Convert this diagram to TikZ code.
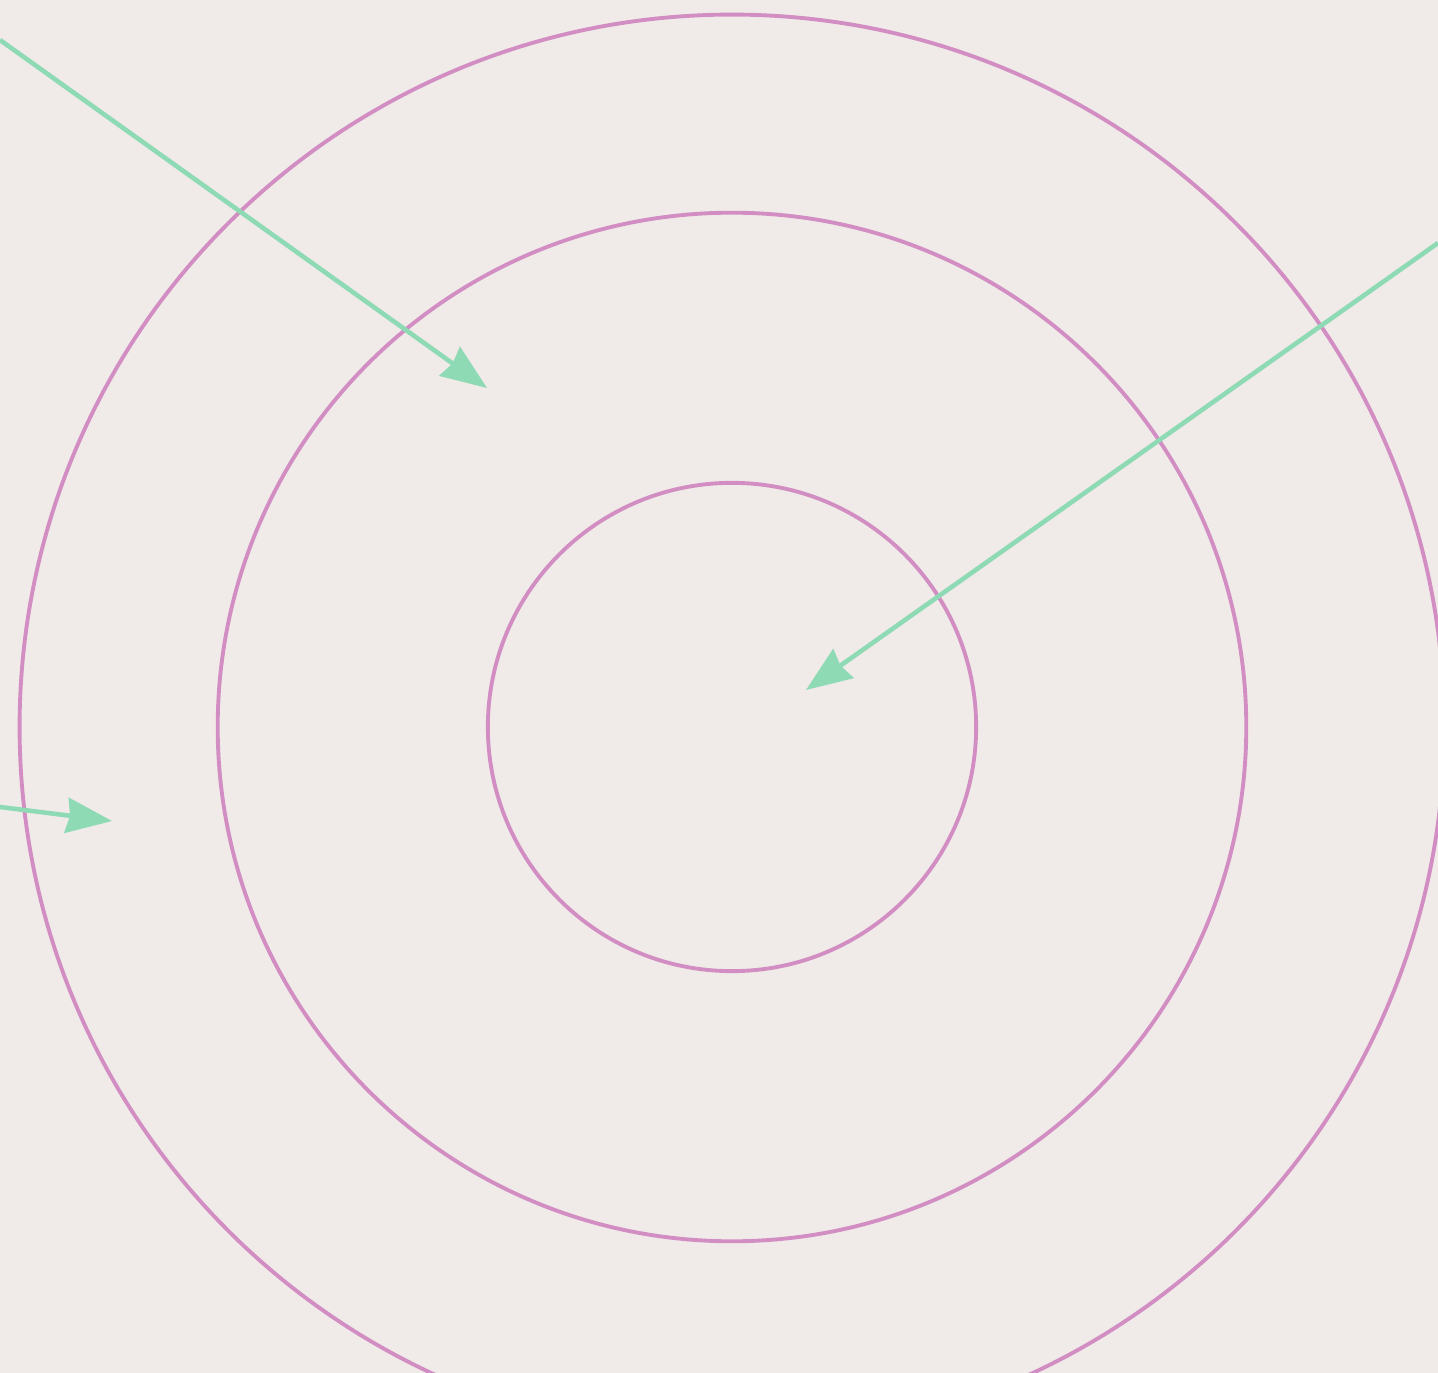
\documentclass[tikz,border=0pt]{standalone}
\usepackage{xcolor}
\usepackage{tikz}
\usetikzlibrary{arrows.meta, positioning, calc}
\definecolor{paper}{HTML}{F0EAE9}
\definecolor{ringpink}{HTML}{D28EC2}
\definecolor{mint}{HTML}{8DDAB4}

\begin{document}
\begin{tikzpicture}[
  x=0.01cm, y=-0.01cm,
  ring/.style={circle, draw=ringpink, line width=1.1pt, inner sep=0pt, outer sep=0pt},
  arrow/.style={-{Stealth[length=13pt, width=10pt, inset=1pt]}, line width=1.3pt, color=mint}
]

% Background
\fill[paper] (0,0) rectangle (1438,1373);
\useasboundingbox (0,0) rectangle (1438,1373);

% Target rings
\coordinate (ctr) at (732,727);
\node[ring, minimum size=4.88cm] (inner) at (ctr) {};
\node[ring, minimum size=10.28cm] (middle) at (ctr) {};
\node[ring, minimum size=14.24cm] (outer) at (ctr) {};

% Arrow ends
\coordinate (startA) at (0,40);
\coordinate (tipA) at (487,388);
\coordinate (startB) at (1438,243);
\coordinate (tipB) at (806,690);
\coordinate (startC) at (0,807);
\coordinate (tipC) at (112,821);

% Arrows
\draw[arrow] (startA) -- (tipA);
\draw[arrow] (startB) -- (tipB);
\draw[arrow] (startC) -- (tipC);

\end{tikzpicture}
\end{document}
